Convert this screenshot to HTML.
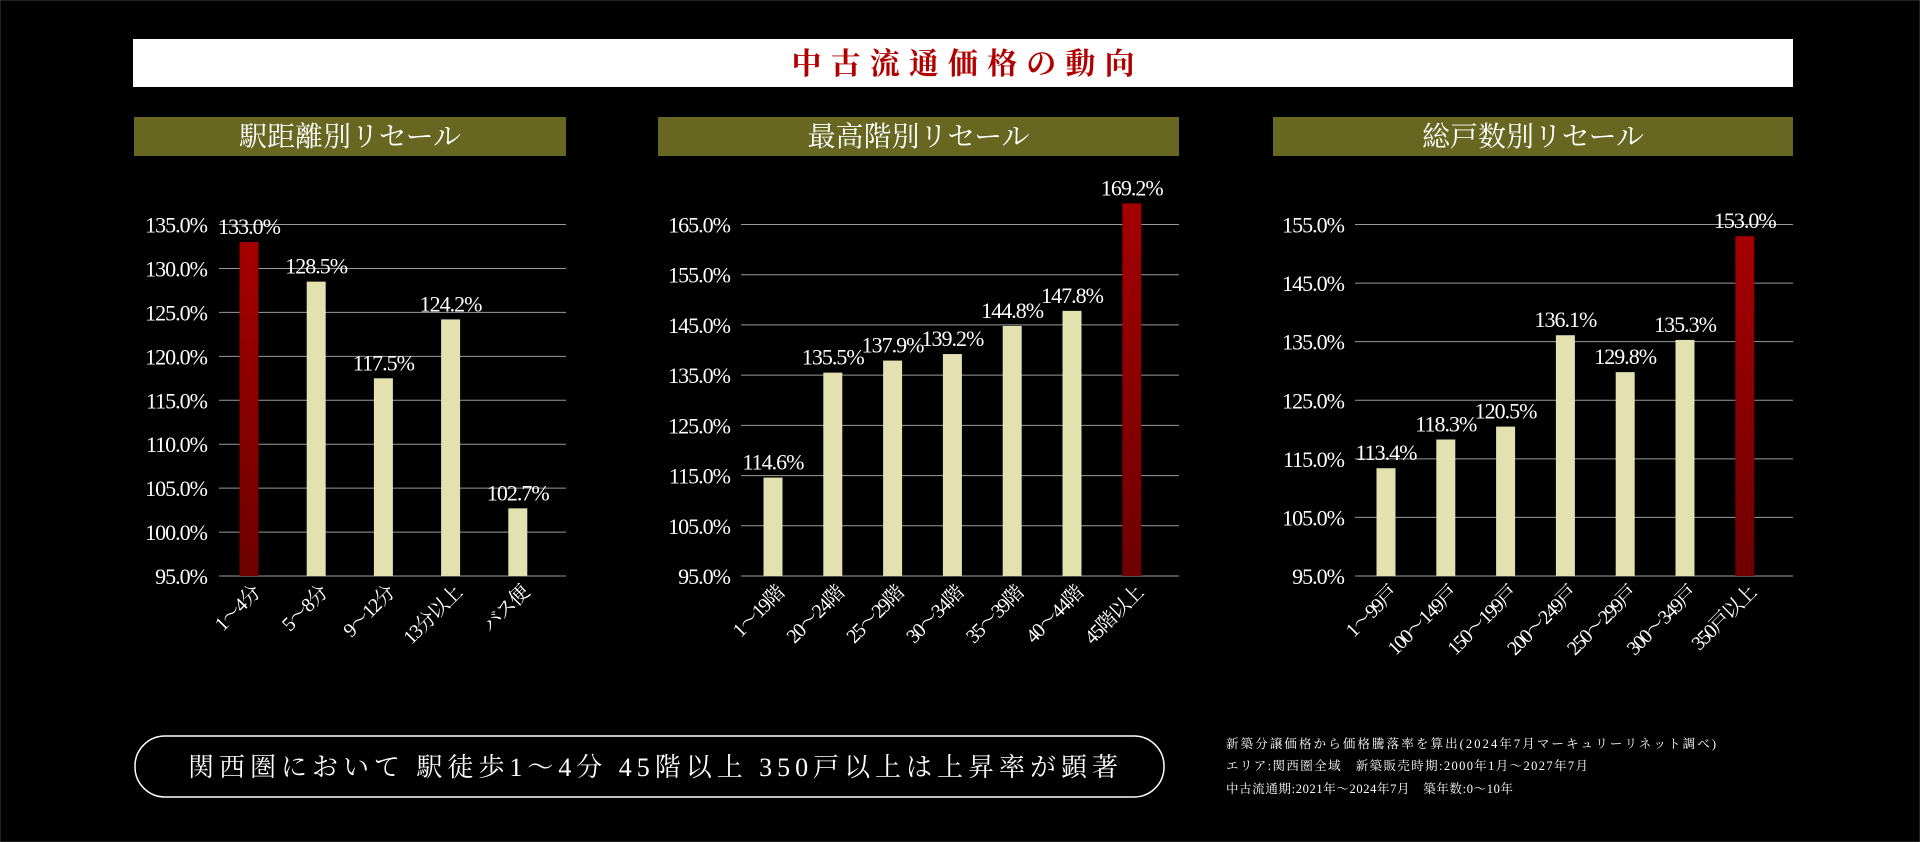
<!DOCTYPE html>
<html><head><meta charset="utf-8"><style>
html,body{margin:0;padding:0;background:#000;}
svg{display:block;}
text{font-family:"Liberation Serif","Noto Serif CJK SC","Noto Sans CJK JP",serif;}
</style></head><body>
<svg id="s" width="1920" height="842" viewBox="0 0 1920 842" xmlns="http://www.w3.org/2000/svg">
<defs>
<linearGradient id="rg" x1="0" y1="0" x2="0" y2="1"><stop offset="0" stop-color="#a50000"/><stop offset="1" stop-color="#6e0000"/></linearGradient>
</defs>
<rect x="0" y="0" width="1920" height="842" fill="#000" stroke="#444"/>
<rect x="133" y="39" width="1660" height="48" fill="#fff"/>
<text x="963" y="74" text-anchor="middle" font-size="30" fill="#b00000" font-weight="bold" textLength="343" lengthAdjust="spacing">中古流通価格の動向</text>
<rect x="1226" y="727" width="0" height="0" fill="none"/>
<rect x="135" y="736" width="1029" height="61" rx="30" ry="30" fill="none" stroke="#fff" stroke-width="1.5"/>
<text x="188" y="776" font-size="26" fill="#fff" textLength="930" lengthAdjust="spacing">関西圏において 駅徒歩1～4分 45階以上 350戸以上は上昇率が顕著</text>
<text x="1226" y="748" font-size="12.5" fill="#fff" textLength="490" lengthAdjust="spacing">新築分譲価格から価格騰落率を算出(2024年7月マーキュリーリネット調べ)</text>
<text x="1226" y="770" font-size="12.5" fill="#fff" textLength="362" lengthAdjust="spacing">エリア:関西圏全域　新築販売時期:2000年1月～2027年7月</text>
<text x="1226" y="793" font-size="12.5" fill="#fff" textLength="287" lengthAdjust="spacing">中古流通期:2021年～2024年7月　築年数:0～10年</text>
<g id="charts"></g>
</svg>
<script>
const c1Categories = ["1～4分","5～8分","9～12分","13分以上","バス便"];
const c1Values = [133.0,128.5,117.5,124.2,102.7];
const c1Ticks = [95,100,105,110,115,120,125,130,135];
const c1Highlight = [0];
const c2Categories = ["1～19階","20～24階","25～29階","30～34階","35～39階","40～44階","45階以上"];
const c2Values = [114.6,135.5,137.9,139.2,144.8,147.8,169.2];
const c2Ticks = [95,105,115,125,135,145,155,165];
const c2Highlight = [6];
const c3Categories = ["1～99戸","100～149戸","150～199戸","200～249戸","250～299戸","300～349戸","350戸以上"];
const c3Values = [113.4,118.3,120.5,136.1,129.8,135.3,153.0];
const c3Ticks = [95,105,115,125,135,145,155];
const c3Highlight = [6];

const NS="http://www.w3.org/2000/svg";
const root=document.getElementById('charts');
function mk(tag,attrs,parent){const e=document.createElementNS(NS,tag);for(const k in attrs)e.setAttribute(k,attrs[k]);(parent||root).appendChild(e);return e;}

function chart(cfg,cats,vals,ticks,hi){
  const g=mk('g',{});
  
  
  const hb=mk('rect',{x:cfg.hx0,y:117,width:cfg.hx1-cfg.hx0,height:39,fill:'#686722'},g);
  
  
  const ht=mk('text',{x:(cfg.hx0+cfg.hx1)/2,y:146,'text-anchor':'middle','font-size':28,fill:'#fff'},g);
  ht.textContent=cfg.title;
  
  
  const ymin=ticks[0],ymax=ticks[ticks.length-1];
  const top=224.5,bot=576;
  const y=v=>bot-(v-ymin)/(ymax-ymin)*(bot-top);
  const x=i=>cfg.c0+i*cfg.band;
  ticks.forEach(t=>{
    const l=mk('line',{x1:cfg.px0,x2:cfg.px1,y1:y(t),y2:y(t),stroke:'#9a9a9a','stroke-width':1},g);
    
    
    const tx=mk('text',{x:cfg.lx,y:y(t)+8,'text-anchor':'end','font-size':22,fill:'#fff','letter-spacing':'-1'},g);
    tx.textContent=t.toFixed(1)+'%';
    
    
  });
  vals.forEach((v,i)=>{
    const cx=x(i);
    const b=mk('rect',{x:cx-9.5,y:y(v),width:19,height:bot-y(v),fill:hi.includes(i)?'url(#rg)':'#e3e1b0'},g);
    
    
    const vt=mk('text',{x:cx,y:y(v)-8,'text-anchor':'middle','font-size':22,fill:'#fff','letter-spacing':'-1'},g);
    vt.textContent=v.toFixed(1)+'%';
    
    
    const ct=mk('text',{x:cx+12,y:bot+18,'text-anchor':'end','font-size':20,fill:'#fff','letter-spacing':'-1.5',transform:`rotate(-45 ${cx+12} ${bot+18})`},g);
    ct.textContent=cats[i];
    
    
  });
}
chart({name:'station-distance-chart',title:'駅距離別リセール',hx0:134,hx1:566,px0:219,px1:566,lx:207,c0:249,band:67.2},c1Categories,c1Values,c1Ticks,c1Highlight);
chart({name:'top-floor-chart',title:'最高階別リセール',hx0:658,hx1:1179,px0:741,px1:1179,lx:730,c0:773,band:59.8},c2Categories,c2Values,c2Ticks,c2Highlight);
chart({name:'total-units-chart',title:'総戸数別リセール',hx0:1273,hx1:1793,px0:1355,px1:1793,lx:1344,c0:1386,band:59.8},c3Categories,c3Values,c3Ticks,c3Highlight);
</script>
</body></html>
